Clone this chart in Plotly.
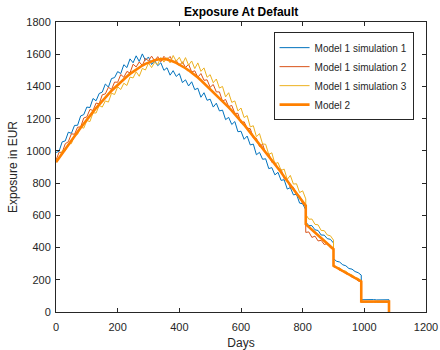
import plotly.graph_objects as go

# x grid: 10-day samples, with repeated day at each payment step (810, 900, 990, 1080)
days = (list(range(0, 811, 10)) + list(range(810, 901, 10)) +
        list(range(900, 991, 10)) + list(range(990, 1081, 10)) + [1080])

sim1 = [990, 998, 1056, 1062, 1116, 1109, 1158, 1159, 1217, 1225,
        1272, 1269, 1325, 1311, 1356, 1365, 1415, 1396, 1449, 1455,
        1492, 1480, 1535, 1517, 1571, 1547, 1590, 1555, 1602, 1562,
        1583, 1536, 1560, 1529, 1547, 1500, 1516, 1470, 1498, 1462,
        1480, 1424, 1441, 1403, 1429, 1380, 1389, 1333, 1361, 1314,
        1321, 1272, 1296, 1248, 1253, 1194, 1208, 1164, 1182, 1119,
        1122, 1072, 1092, 1037, 1042, 976, 991, 948, 951, 890,
        896, 851, 867, 817, 821, 763, 772, 727, 731, 676,
        672, 634,
        559, 536, 536, 510, 506, 478, 477, 455, 451, 428,
        331, 315, 310, 293, 287, 270, 266, 251, 244, 229,
        76, 77, 75, 76, 77, 75, 76, 76, 77, 76,
        0]

sim2 = [942, 992, 990, 1044, 1057, 1106, 1103, 1147, 1149, 1204,
        1211, 1257, 1251, 1297, 1292, 1348, 1354, 1395, 1381, 1427,
        1426, 1474, 1457, 1493, 1484, 1538, 1521, 1552, 1530, 1574,
        1559, 1588, 1559, 1585, 1553, 1587, 1566, 1586, 1549, 1562,
        1528, 1553, 1517, 1538, 1490, 1497, 1457, 1480, 1438, 1441,
        1395, 1412, 1366, 1366, 1309, 1319, 1275, 1282, 1233, 1233,
        1173, 1181, 1141, 1138, 1081, 1078, 1027, 1042, 985, 984,
        929, 929, 887, 886, 827, 821, 771, 774, 726, 719,
        671, 661,
        494, 497, 463, 471, 441, 445, 419, 425, 399, 394,
        281, 275, 259, 253, 238, 232, 216, 209, 193, 186,
        60, 61, 59, 60, 61, 60, 59, 60, 61, 60,
        0]

sim3 = [941, 951, 1001, 1000, 1045, 1045, 1097, 1103, 1148, 1141,
        1188, 1182, 1236, 1235, 1282, 1272, 1310, 1303, 1358, 1350,
        1398, 1381, 1420, 1406, 1458, 1453, 1491, 1463, 1512, 1502,
        1545, 1517, 1550, 1536, 1580, 1551, 1580, 1546, 1592, 1556,
        1581, 1539, 1579, 1532, 1558, 1511, 1546, 1494, 1515, 1457,
        1473, 1423, 1446, 1390, 1400, 1335, 1361, 1301, 1310, 1248,
        1266, 1207, 1219, 1149, 1156, 1088, 1107, 1043, 1041, 978,
        988, 919, 928, 878, 887, 823, 848, 794, 796, 741,
        752, 702,
        606, 576, 577, 544, 541, 506, 505, 478, 473, 446,
        294, 278, 274, 258, 253, 237, 230, 215, 209, 195,
        62, 63, 61, 62, 63, 62, 61, 62, 63, 62,
        0]

model2 = [930, 958, 985, 1012, 1040, 1066, 1093, 1118, 1144, 1170,
          1194, 1218, 1242, 1266, 1289, 1311, 1332, 1353, 1373, 1392,
          1411, 1429, 1446, 1462, 1478, 1492, 1506, 1518, 1530, 1540,
          1549, 1556, 1562, 1567, 1570, 1570, 1567, 1562, 1555, 1546,
          1536, 1525, 1513, 1500, 1486, 1471, 1455, 1438, 1420, 1402,
          1384, 1366, 1347, 1328, 1309, 1290, 1270, 1250, 1229, 1207,
          1185, 1162, 1138, 1114, 1090, 1066, 1042, 1018, 994, 970,
          945, 920, 894, 867, 840, 815, 790, 764, 738, 712,
          686, 660,
          545, 528, 511, 494, 477, 460, 443, 426, 409, 390,
          287, 276, 265, 254, 244, 233, 222, 212, 201, 190,
          65, 65, 65, 65, 65, 65, 65, 65, 65, 65,
          0]

names = ["Model 1 simulation 1", "Model 1 simulation 2", "Model 1 simulation 3", "Model 2"]
colors = ["#0072BD", "#D95319", "#EDB120", "#FF8000"]
widths = [1, 1, 1, 2.6]
x_ticks = [0, 200, 400, 600, 800, 1000, 1200]
y_ticks = [0, 200, 400, 600, 800, 1000, 1200, 1400, 1600, 1800]

fig = go.Figure()
for name, ys, c, w in zip(names, [sim1, sim2, sim3, model2], colors, widths):
    fig.add_trace(go.Scatter(x=days, y=ys, mode="lines", name=name,
                             line=dict(color=c, width=w)))

axis_color = "#262626"
font_family = "Liberation Sans, Arial, sans-serif"
common = dict(showline=True, linecolor=axis_color, linewidth=1, mirror="ticks",
              ticks="inside", ticklen=4, tickcolor=axis_color, showgrid=False,
              zeroline=False, automargin=False,
              tickfont=dict(size=11, color=axis_color, family=font_family))
fig.update_xaxes(range=[0, 1200], tickvals=x_ticks, ticklabelstandoff=5,
                 title=dict(text="Days", font=dict(size=12, color=axis_color), standoff=6),
                 **common)
fig.update_yaxes(range=[0, 1800], tickvals=y_ticks, ticklabelstandoff=2,
                 title=dict(text="Exposure in EUR", font=dict(size=12, color=axis_color), standoff=6),
                 **common)

fig.update_layout(
    width=440, height=350,
    margin=dict(l=56, r=14, t=22, b=38, autoexpand=False),
    paper_bgcolor="white", plot_bgcolor="white",
    font=dict(family=font_family, color=axis_color),
    title=dict(text="<b>Exposure At Default</b>", x=0.548, xanchor="center",
               y=0.967, yanchor="middle", font=dict(size=12, color="#000000")),
    showlegend=True,
    legend=dict(x=0.588, y=0.965, xanchor="left", yanchor="top",
                bgcolor="white", bordercolor=axis_color, borderwidth=1,
                font=dict(size=10, color=axis_color),
                tracegroupgap=0, itemwidth=30),
)

fig.write_html("out.html")
